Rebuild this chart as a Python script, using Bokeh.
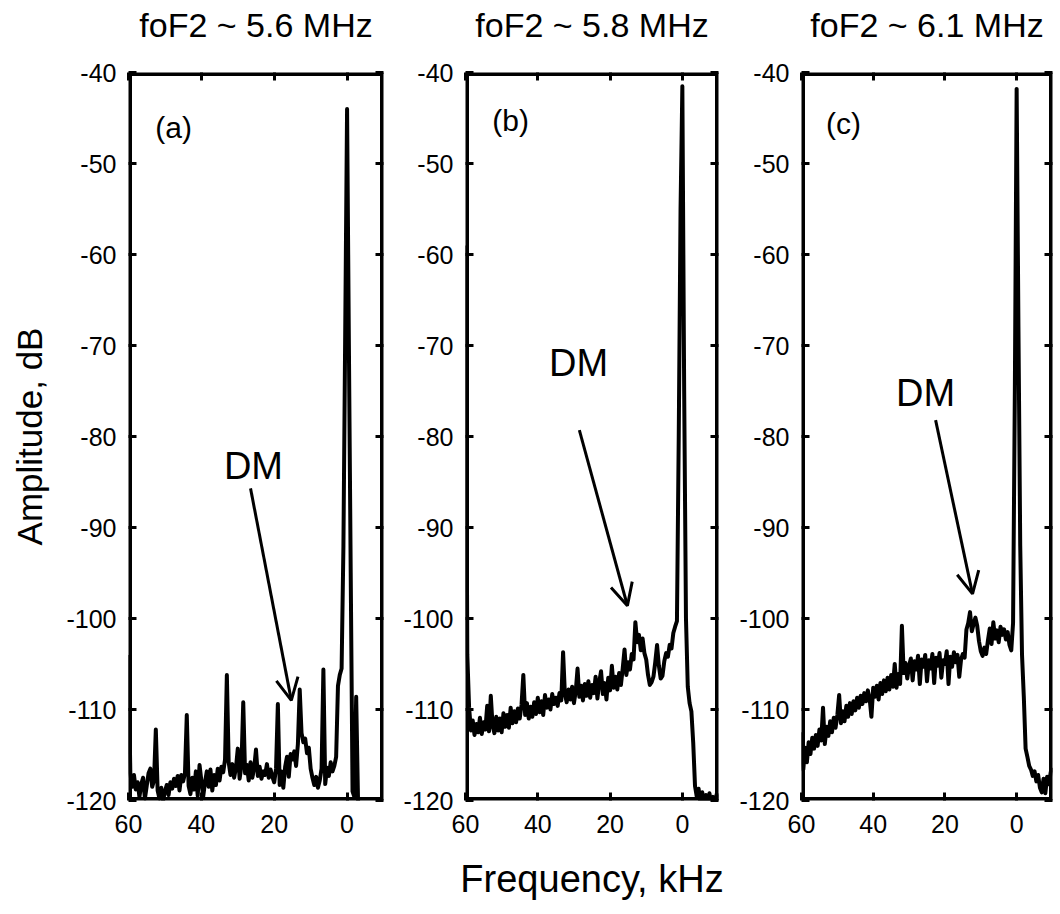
from bokeh.plotting import figure
from bokeh.models import (Range1d, FixedTicker, LinearAxis, Arrow, OpenHead,
                          Label, ColumnDataSource, BoxAnnotation)
from bokeh.layouts import row
from bokeh.embed import file_html
from bokeh.resources import INLINE

FONT = "Liberation Sans"

# ---- data ----
freq_khz = [
    60.0, 59.5, 59.0, 58.5, 58.0, 57.5, 57.0, 56.5, 56.0, 55.5,
    55.0, 54.5, 54.0, 53.5, 53.0, 52.5, 52.0, 51.5, 51.0, 50.5,
    50.0, 49.5, 49.0, 48.5, 48.0, 47.5, 47.0, 46.5, 46.0, 45.5,
    45.0, 44.5, 44.0, 43.5, 43.0, 42.5, 42.0, 41.5, 41.0, 40.5,
    40.0, 39.5, 39.0, 38.5, 38.0, 37.5, 37.0, 36.5, 36.0, 35.5,
    35.0, 34.5, 34.0, 33.5, 33.0, 32.5, 32.0, 31.5, 31.0, 30.5,
    30.0, 29.5, 29.0, 28.5, 28.0, 27.5, 27.0, 26.5, 26.0, 25.5,
    25.0, 24.5, 24.0, 23.5, 23.0, 22.5, 22.0, 21.5, 21.0, 20.5,
    20.0, 19.5, 19.0, 18.5, 18.0, 17.5, 17.0, 16.5, 16.0, 15.5,
    15.0, 14.5, 14.0, 13.5, 13.0, 12.5, 12.0, 11.5, 11.0, 10.5,
    10.0, 9.5, 9.0, 8.5, 8.0, 7.5, 7.0, 6.5, 6.0, 5.5,
    5.0, 4.5, 4.0, 3.5, 3.0, 2.5, 2.0, 1.5, 1.0, 0.5,
    0.0, -0.5, -1.0, -1.5, -2.0, -2.5, -3.0, -3.5, -4.0, -4.5,
    -5.0, -5.5, -6.0, -6.5, -7.0, -7.5, -8.0, -8.5, -9.0, -9.5,
    -10.0,
]

amp_a = [
    -104.0, -117.0, -118.5, -117.2, -118.8, -118.0, -119.6, -118.2, -117.5, -119.8,
    -118.4, -117.0, -116.5, -118.5, -117.8, -112.2, -118.9, -119.8, -118.6, -120.0,
    -119.0, -118.3, -119.4, -118.0, -118.7, -117.6, -118.4, -117.3, -118.9, -117.2,
    -117.9, -117.0, -110.6, -118.4, -119.3, -117.5, -118.8, -116.8, -119.5, -116.1,
    -117.8, -119.6, -118.0, -116.8, -118.5, -116.6, -118.9, -117.2, -118.3, -116.5,
    -117.8, -116.3, -116.9, -115.5, -106.2, -115.8, -117.2, -116.0, -117.5, -116.4,
    -114.3, -117.6, -116.2, -109.2, -117.0, -116.1, -117.8, -115.8, -117.5, -116.4,
    -114.4, -117.3, -116.3, -117.6, -116.8, -117.2, -116.0, -117.5, -116.6, -117.4,
    -118.0, -116.5, -109.4, -118.3, -116.8, -118.6, -116.3, -115.2, -117.4, -114.9,
    -115.5, -114.6, -116.2, -113.8, -107.8, -112.6, -113.6, -113.2, -114.8, -114.2,
    -116.5, -117.5, -118.3, -117.4, -118.6, -117.8, -116.5, -105.6, -118.2, -116.4,
    -117.3, -115.8, -116.8, -116.2, -115.2, -107.4, -106.2, -105.5, -92.0, -68.0,
    -44.0, -70.0, -95.0, -119.0, -119.6, -108.6, -119.8, -125.0, -125.0, -125.0,
    -125.0, -125.0, -125.0, -125.0, -125.0, -125.0, -125.0, -125.0, -125.0, -125.0,
    -125.0,
]

amp_b = [
    -59.0, -104.0, -109.8, -112.3, -111.2, -112.8, -111.6, -112.5, -110.9, -112.7,
    -111.4, -112.2, -109.6, -112.4, -108.5, -111.8, -112.6, -110.8, -112.3, -111.0,
    -112.5, -110.4, -111.9, -110.6, -112.0, -109.8, -111.5, -110.2, -111.4, -109.9,
    -111.0, -109.5, -106.2, -110.6, -109.3, -111.0, -109.7, -110.8, -109.2, -110.5,
    -108.7, -110.3, -109.1, -110.6, -108.4, -109.8, -108.9, -110.0, -108.3, -109.4,
    -108.7, -109.6, -108.2, -109.0, -103.7, -108.3, -109.2, -107.8, -108.9, -107.5,
    -109.3, -108.0, -105.5, -108.6, -107.4, -109.0, -107.2, -108.5, -106.9, -108.7,
    -107.3, -108.2, -106.4, -108.8, -107.0, -105.8, -108.3, -107.1, -108.9, -106.5,
    -107.9, -105.2, -107.6, -106.4, -107.8, -106.0, -107.3, -105.5, -103.4, -106.2,
    -104.8, -105.6, -103.9, -104.5, -100.4, -102.6, -101.8, -103.5, -102.2, -103.8,
    -104.5, -106.2, -107.3, -107.0, -106.4, -104.8, -102.9, -105.2, -106.6, -106.3,
    -104.7, -103.8, -104.2, -102.9, -103.3, -101.6, -100.9, -100.3, -80.0, -55.0,
    -41.5, -75.0, -100.0, -107.5, -109.3, -110.2, -113.6, -118.4, -119.6, -118.7,
    -120.3, -119.1, -120.6, -119.4, -120.8, -119.2, -120.5, -119.6, -120.4, -119.3,
    -120.2,
]

amp_c = [
    -112.5, -116.6, -114.2, -115.8, -113.6, -114.9, -113.1, -114.3, -112.8, -114.0,
    -112.2, -113.4, -109.8, -113.8, -111.9, -112.9, -111.3, -112.5, -110.9, -112.0,
    -110.6, -108.4, -111.5, -110.2, -111.3, -109.6, -110.8, -109.3, -110.5, -109.1,
    -110.1, -108.7, -109.8, -108.5, -109.4, -108.2, -109.1, -107.9, -108.8, -110.8,
    -107.6, -108.6, -107.4, -108.9, -107.1, -108.3, -106.8, -108.0, -106.5, -107.8,
    -106.2, -107.5, -105.0, -107.6, -106.1, -107.2, -100.8, -106.0, -104.9, -106.6,
    -105.2, -104.4, -106.8, -104.7, -105.6, -104.1, -107.2, -104.5, -105.3, -104.0,
    -106.9, -104.6, -105.5, -103.9, -107.1, -104.3, -105.2, -103.8, -106.5, -104.6,
    -105.0, -103.6, -107.2, -104.2, -105.3, -103.7, -104.8, -104.0, -106.4, -104.5,
    -103.9, -104.3, -101.2, -100.5, -99.3, -101.4, -100.6, -99.9, -100.8, -102.5,
    -103.6, -104.1, -103.2, -103.9, -102.4, -101.1, -102.8, -100.4, -102.2, -101.3,
    -102.6, -100.9, -101.8, -101.2, -102.3, -101.5, -102.9, -103.5, -100.5, -75.0,
    -41.8, -68.0, -92.0, -104.0, -108.6, -114.3, -115.2, -116.2, -116.6, -117.3,
    -116.8, -117.9, -117.2, -118.6, -119.1, -117.6, -119.2, -117.4, -118.2, -116.9,
    -116.4,
]

panel_titles = ["foF2 ~ 5.6 MHz", "foF2 ~ 5.8 MHz", "foF2 ~ 6.1 MHz"]
panel_letters = ["(a)", "(b)", "(c)"]
x_ticks = [60, 40, 20, 0]
y_ticks = [-40, -50, -60, -70, -80, -90, -100, -110, -120]
x_label = "Frequency, kHz"
y_label = "Amplitude, dB"
dm_text = "DM"

# annotation placement per panel (data coordinates)
letter_pos = [(47.6, -46.0), (47.5, -45.3), (48.3, -45.6)]
dm_pos = [(25.7, -83.2), (28.7, -71.9), (25.4, -75.2)]
arrow_pos = [((26.5, -85.7), (15.3, -109.0)),
             ((28.5, -79.3), (15.2, -98.6)),
             ((22.6, -78.2), (12.3, -97.3))]

# layout geometry (pixels): left border, right border, frame width
borders = [(128, 10, 255), (72, 10, 253), (73, 8, 251)]

amps = [amp_a, amp_b, amp_c]


def style_axis(ax, ticks, labels=True):
    ax.ticker = FixedTicker(ticks=ticks)
    ax.axis_line_color = None
    ax.major_tick_in = 8
    ax.major_tick_out = 0
    ax.major_tick_line_width = 3
    ax.major_tick_line_color = "black"
    ax.minor_tick_line_color = None
    ax.major_label_text_font = FONT
    ax.major_label_text_color = "black"
    ax.major_label_standoff = 12
    ax.major_label_text_font_size = "25px"
    ax.major_label_overrides = {t: str(t) for t in ticks}
    ax.axis_label_text_font = FONT
    ax.axis_label_text_font_style = "normal"
    ax.axis_label_text_color = "black"
    ax.axis_label_text_font_size = "36px"
    if not labels:
        ax.major_label_text_color = None
        ax.major_label_text_font_size = "2px"
        ax.major_label_standoff = 0


figs = []
for i in range(3):
    bl, br, fw = borders[i]
    p = figure(width=bl + fw + br, height=914,
               x_range=Range1d(60, -10), y_range=Range1d(-120, -40),
               output_backend="svg", toolbar_location=None,
               min_border_left=bl, min_border_right=br,
               min_border_top=72, min_border_bottom=114,
               title=panel_titles[i])
    p.grid.visible = False
    p.outline_line_color = None
    p.background_fill_color = "white"
    p.border_fill_color = "white"

    p.title.align = "center"
    p.title.vertical_align = "bottom"
    p.title.standoff = 0
    p.title.text_font = FONT
    p.title.text_font_style = "normal"
    p.title.text_font_size = "34px"
    p.title.text_color = "black"

    src = ColumnDataSource(dict(freq=freq_khz, amp=amps[i]))
    p.line("freq", "amp", source=src, line_color="black", line_width=4,
           line_join="round")

    xb = p.below[0]
    yl = p.left[0]
    style_axis(xb, x_ticks)
    style_axis(yl, y_ticks)
    xb.major_label_standoff = 14

    if i == 0:
        yl.axis_label = y_label
        yl.axis_label_standoff = 14
        yl.axis_label_text_font_size = "35px"
    if i == 1:
        xb.axis_label = x_label
        xb.axis_label_standoff = 22
        xb.axis_label_text_font_size = "38px"

    top = LinearAxis()
    right = LinearAxis()
    style_axis(top, x_ticks, labels=False)
    style_axis(right, y_ticks, labels=False)
    p.add_layout(top, "above")
    p.add_layout(right, "right")

    # invisible spacer between the frame and the title
    spacer = LinearAxis()
    style_axis(spacer, x_ticks, labels=False)
    spacer.major_tick_line_color = None
    spacer.major_tick_in = 0
    spacer.major_tick_out = 29
    p.add_layout(spacer, "above")

    # the plot frame drawn as a box
    p.add_layout(BoxAnnotation(fill_color=None, fill_alpha=0,
                               line_color="black", line_alpha=1.0,
                               line_width=7, level="overlay"))

    lx, ly = letter_pos[i]
    p.add_layout(Label(x=lx, y=ly, text=panel_letters[i], text_align="center",
                       text_baseline="middle", text_font=FONT,
                       text_font_size="30px", text_color="black"))
    dx, dy = dm_pos[i]
    p.add_layout(Label(x=dx, y=dy, text=dm_text, text_align="center",
                       text_baseline="middle", text_font=FONT,
                       text_font_size="38px", text_color="black"))
    (xs, ys), (xe, ye) = arrow_pos[i]
    p.add_layout(Arrow(end=OpenHead(size=22, line_width=3, line_color="black"),
                       x_start=xs, y_start=ys, x_end=xe, y_end=ye,
                       line_width=3, line_color="black"))
    figs.append(p)

layout = row(*figs, spacing=0)
open("out.html", "w").write(file_html(layout, INLINE))
